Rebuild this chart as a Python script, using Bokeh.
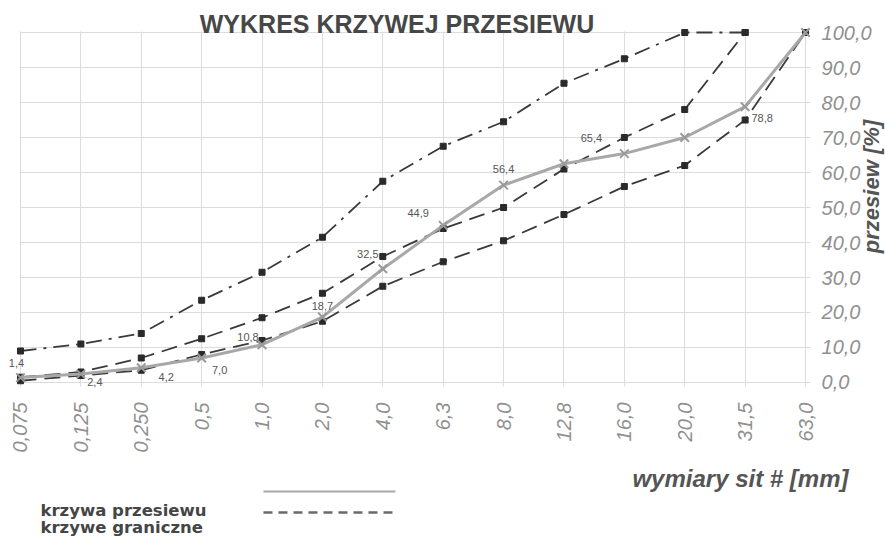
import math
from bokeh.plotting import figure
from bokeh.models import (ColumnDataSource, FixedTicker, Range1d, Label, LabelSet,
                          BoxAnnotation, Arrow)
from bokeh.core.properties import value
from bokeh.embed import file_html
from bokeh.resources import INLINE

# ---- data ----
sieve_sizes = ["0,075", "0,125", "0,250", "0,5", "1,0", "2,0", "4,0", "6,3",
               "8,0", "12,8", "16,0", "20,0", "31,5", "63,0"]
sieve_curve = [1.4, 2.4, 4.2, 7.0, 10.8, 18.7, 32.5, 44.9, 56.4, 62.5, 65.4, 70.0, 78.8, 100.0]
sieve_labels = ["1,4", "2,4", "4,2", "7,0", "10,8", "18,7", "32,5", "44,9", "56,4", "", "65,4", "", "78,8", ""]
limit_upper = [9.0, 11.0, 14.0, 23.5, 31.5, 41.5, 57.5, 67.5, 74.5, 85.5, 92.5, 100.0, 100.0, float("nan")]
limit_middle = [1.5, 3.0, 7.0, 12.5, 18.5, 25.5, 36.0, 44.0, 50.0, 61.0, 70.0, 78.0, 100.0, float("nan")]
limit_lower = [0.5, 2.0, 3.5, 8.0, 12.0, 17.5, 27.5, 34.5, 40.5, 48.0, 56.0, 62.0, 75.0, 100.0]
y_ticks = [0, 10, 20, 30, 40, 50, 60, 70, 80, 90, 100]

# label offsets (pixels, styling only)
label_dx = [-4, 14, 25, 18, -14, 0, -15, -25, 0, 0, -33, 0, 17, 0]
label_dy = [15, -8, -9, -12, 8, 11, 15, 12, 16, 0, 16, 0, -11, 0]

xs = list(range(len(sieve_sizes)))
FONT = "Liberation Sans"
X_END = len(sieve_sizes) - 1 + 0.05     # right edge of the plotting box
Y_BOT = -1.143                          # bottom edge of the plotting box

# the frame fills the whole canvas; axes are pinned to the plotting box edges
p = figure(width=885, height=540, output_backend="svg", toolbar_location=None,
           x_range=Range1d(-0.3312, 14.3248), y_range=Range1d(-45.143, 109.143),
           y_axis_location="right",
           min_border_left=0, min_border_right=0, min_border_top=0, min_border_bottom=0)
p.outline_line_color = None
p.background_fill_color = "white"
p.border_fill_color = "white"

xt = FixedTicker(ticks=xs)
yt = FixedTicker(ticks=y_ticks)
p.xaxis.ticker = xt
p.yaxis.ticker = yt
p.xaxis.fixed_location = Y_BOT
p.yaxis.fixed_location = X_END
p.xaxis.major_label_overrides = {i: s for i, s in enumerate(sieve_sizes)}
p.yaxis.major_label_overrides = {t: f"{t:.1f}".replace(".", ",") for t in y_ticks}
for ax in (p.xaxis[0], p.yaxis[0]):
    ax.axis_line_color = None
    ax.major_tick_line_color = None
    ax.minor_tick_line_color = None
    ax.major_tick_out = 0
    ax.major_tick_in = 0
    ax.major_label_text_font = FONT
    ax.major_label_text_font_style = "italic"
    ax.major_label_text_font_size = "20px"
    ax.major_label_text_color = "#909090"
p.xaxis.major_label_orientation = math.pi / 2
p.xaxis.major_label_standoff = 16
p.yaxis.major_label_standoff = 13

p.xgrid.ticker = xt
p.ygrid.ticker = yt
p.xgrid.grid_line_color = "#dcdcdc"
p.ygrid.grid_line_color = "#dcdcdc"
# keep the grid inside the plotting box
for kw in (dict(bottom=100.3), dict(top=Y_BOT), dict(right=-0.012), dict(left=X_END + 0.03)):
    p.add_layout(BoxAnnotation(fill_color="white", fill_alpha=1.0, line_alpha=0.0, level="underlay", **kw))

# limit curves
lim_color = "#3a3a3a"
p.line(xs, limit_upper, line_color=lim_color, line_width=1.8, line_dash="16 7 3 7")
p.line(xs, limit_middle, line_color=lim_color, line_width=1.8, line_dash="16 8")
p.line(xs, limit_lower, line_color=lim_color, line_width=1.8, line_dash="16 8")
for arr in (limit_upper, limit_middle, limit_lower):
    p.scatter(xs, arr, marker="square", size=6, fill_color="#2a2a2a", line_color="#2a2a2a")

# sieve curve
p.line(xs, sieve_curve, line_color="#a8a8a8", line_width=3)
p.scatter(xs, sieve_curve, marker="x", size=12, line_color="#9a9a9a", line_width=2)

src = ColumnDataSource(dict(x=xs, y=sieve_curve, text=sieve_labels, dx=label_dx, dy=label_dy))
p.add_layout(LabelSet(x="x", y="y", text="text", x_offset="dx", y_offset="dy", source=src,
                      text_align="center", text_baseline="middle",
                      text_font=value(FONT), text_font_size="11px", text_color="#555555"))


def label(x, y, text, size, style, align, baseline="middle", angle=0.0, font=FONT, color="#555555"):
    p.add_layout(Label(x=x, y=y, text=text, text_align=align, text_baseline=baseline, angle=angle,
                       text_font=font, text_font_style=style, text_font_size=size, text_color=color))


label(6.235, 102.571, "WYKRES KRZYWEJ PRZESIEWU", "25px", "bold", "center", color="#474747")
label(14.092, 56.0, "przesiew [%]", "22px", "bold italic", "center", angle=math.pi / 2)
label(13.712, -27.43, "wymiary sit # [mm]", "24px", "bold italic", "right", baseline="alphabetic")

# legend
label(0.3312, -36.571, "krzywa przesiewu", "16.5px", "bold", "left", baseline="alphabetic",
      font="DejaVu Sans", color="#454545")
label(0.3312, -41.429, "krzywe graniczne", "16.5px", "bold", "left", baseline="alphabetic",
      font="DejaVu Sans", color="#454545")
p.add_layout(Arrow(end=None, x_start=4.024, y_start=-31.143, x_end=6.210, y_end=-31.143,
                   line_color="#a8a8a8", line_width=2))
p.add_layout(Arrow(end=None, x_start=4.024, y_start=-37.143, x_end=6.210, y_end=-37.143,
                   line_color="#6a6a6a", line_width=2.5, line_dash="9 6"))

open("out.html", "w").write(file_html(p, INLINE))
